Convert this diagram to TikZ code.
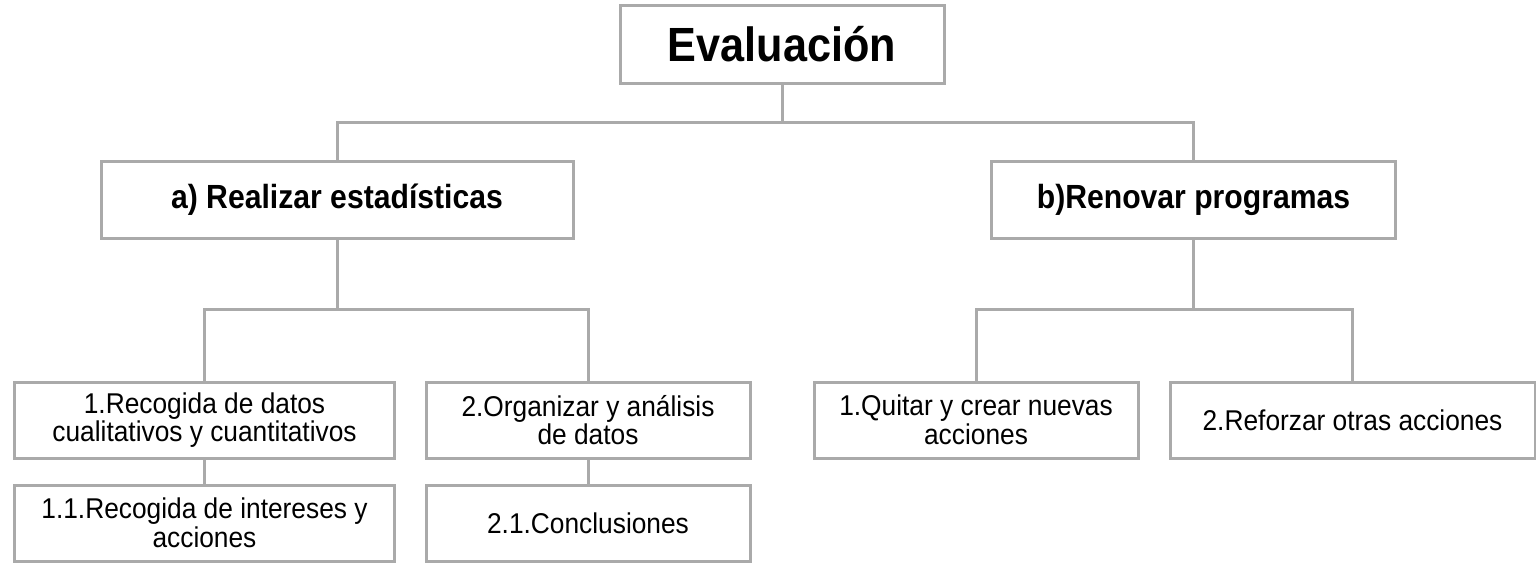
\documentclass[tikz,border=0pt]{standalone}
\usepackage{fontspec}
\setmainfont{Liberation Sans}[FakeStretch=0.92]
\newfontfamily\nbold{Liberation Sans}[FakeStretch=0.9]
\definecolor{linegray}{RGB}{170,170,170}
\tikzset{
  box/.style={draw=linegray, line width=3pt, fill=white, inner sep=0pt, align=center, text=black},
  titlebox/.style={box, font=\nbold\bfseries\fontsize{48}{52}\selectfont},
  headbox/.style={box, font=\nbold\bfseries\fontsize{33.5}{38}\selectfont},
  itembox/.style={box, font=\fontsize{28.6}{28.5}\selectfont},
  conn/.style={draw=linegray, line width=3pt}
}
\begin{document}
\begin{tikzpicture}[x=1pt,y=-1pt]
\useasboundingbox (0,0) rectangle (1536,562);
\node[titlebox, minimum width=324pt, minimum height=78pt] (E) at (782,44) {Evaluación};
\node[headbox, minimum width=472pt, minimum height=77pt] (A) at (337,199.5) {a) Realizar estadísticas};
\node[headbox, minimum width=404pt, minimum height=77pt] (B) at (1193.5,199.5) {b)Renovar programas};
\node[itembox, minimum width=380pt, minimum height=76pt] (A1) at (204.5,420) {1.Recogida de datos\\cualitativos y cuantitativos};
\node[itembox, minimum width=324pt, minimum height=76pt] (A2) at (588,420) {2.Organizar y análisis\\de datos};
\node[itembox, minimum width=380pt, minimum height=76pt] (A11) at (204.5,523) {1.1.Recogida de intereses y\\acciones};
\node[itembox, minimum width=324pt, minimum height=76pt] (A21) at (588,523) {2.1.Conclusiones};
\node[itembox, minimum width=324pt, minimum height=76pt] (B1) at (976,420) {1.Quitar y crear nuevas\\acciones};
\node[itembox, minimum width=365pt, minimum height=76pt] (B2) at (1352.5,420) {2.Reforzar otras acciones};
\coordinate (j1) at (782,122);
\coordinate (j2) at (337,309);
\coordinate (j3) at (1193.5,309);
\draw[conn] (E.south) -- (j1) -| (A.north);
\draw[conn] (j1) -| (B.north);
\draw[conn] (A.south) -- (j2) -| (A1.north);
\draw[conn] (j2) -| (A2.north);
\draw[conn] (B.south) -- (j3) -| (B1.north);
\draw[conn] (j3) -| (B2.north);
\draw[conn] (A1.south) -- (A11.north);
\draw[conn] (A2.south) -- (A21.north);
\end{tikzpicture}
\end{document}
